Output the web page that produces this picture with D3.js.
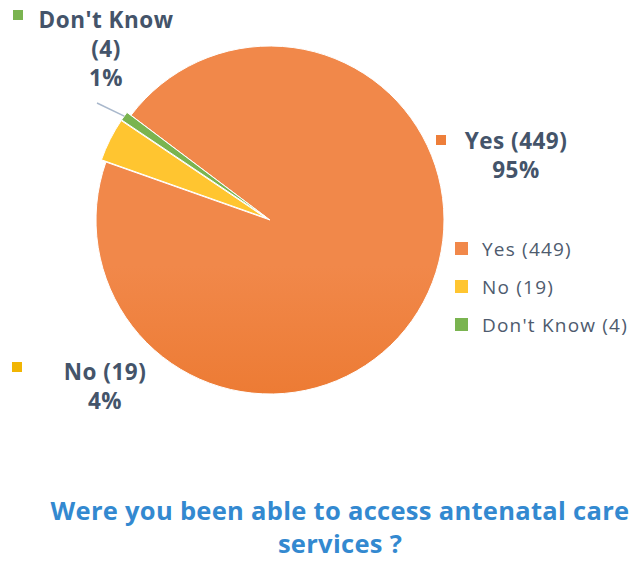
<!DOCTYPE html>
<html>
<head>
<meta charset="utf-8">
<script src="https://cdn.jsdelivr.net/npm/d3@7/dist/d3.min.js"></script>
<style>
  body { margin: 0; background: #fff; }
  svg text { font-family: "Open Sans", "Noto Sans", sans-serif; }
</style>
</head>
<body>
<div class="chart"></div>
<script>
// data
var categories = ["Yes", "No", "Don't Know"];
var counts = [449, 19, 4];
var percentLabels = ["95%", "4%", "1%"];
var titleLines = ["Were you been able to access antenatal care", "services ?"];

var width = 644, height = 561;
var cx = 270, cy = 220, radius = 174;

var colorTop = ["#F1884A", "#FFC530", "#7AB450"];
var colorBot = ["#E5650F", "#F0B400", "#62A236"];
var explode = [0, 5, 5];

var svg = d3.select(".chart").append("svg")
    .attr("width", width)
    .attr("height", height);

var defs = svg.append("defs");
categories.forEach(function(c, i) {
  var g = defs.append("linearGradient")
      .attr("id", "grad" + i)
      .attr("gradientUnits", "userSpaceOnUse")
      .attr("x1", 0).attr("y1", cy - radius)
      .attr("x2", 0).attr("y2", cy + radius);
  g.append("stop").attr("offset", "0%").attr("stop-color", colorTop[i]);
  g.append("stop").attr("offset", "100%").attr("stop-color", colorBot[i]);
});

var startA = -53 * Math.PI / 180;
var pie = d3.pie()
    .sort(null)
    .startAngle(startA)
    .endAngle(startA + 2 * Math.PI)
    .value(function(d) { return d; });

var arc = d3.arc().innerRadius(0).outerRadius(radius);
var arcs = pie(counts);

var g = svg.append("g")
    .attr("transform", "translate(" + cx + "," + cy + ")");

g.selectAll(".slice")
    .data(arcs)
  .enter().append("path")
    .attr("class", "slice")
    .attr("d", arc)
    .attr("transform", function(d, i) {
      var a = (d.startAngle + d.endAngle) / 2;
      return "translate(" + (Math.sin(a) * explode[i]) + "," + (-Math.cos(a) * explode[i]) + ")";
    })
    .attr("fill", function(d, i) { return "url(#grad" + i + ")"; })
    .attr("stroke", "#fff")
    .attr("stroke-width", 1);

// leader line for the small slice
var dk = arcs[2];
var dkA = (dk.startAngle + dk.endAngle) / 2;
svg.append("line")
    .attr("x1", cx + Math.sin(dkA) * (radius + 5))
    .attr("y1", cy - Math.cos(dkA) * (radius + 5))
    .attr("x2", 97)
    .attr("y2", 103)
    .attr("stroke", "#A9B8CC")
    .attr("stroke-width", 1.5);

// data labels
var labelColor = "#44546A";
var dataLabels = [
  { lines: ["Yes (449)", percentLabels[0]], x: 516, y: 149, mx: 441, my: 140 },
  { lines: ["No (19)", percentLabels[1]], x: 105, y: 380, mx: 17, my: 367 },
  { lines: ["Don't Know", "(" + counts[2] + ")", percentLabels[2]], x: 106, y: 28, mx: 18, my: 15 }
];

[0, 1, 2].forEach(function(i) {
  var L = dataLabels[i];
  svg.append("rect")
      .attr("x", L.mx - 5).attr("y", L.my - 5)
      .attr("width", 10).attr("height", 10)
      .attr("fill", "url(#grad" + i + ")");
  var t = svg.append("text")
      .attr("text-anchor", "middle")
      .attr("font-weight", "bold")
      .attr("font-size", 22.5)
      .attr("letter-spacing", 0.5)
      .attr("fill", labelColor);
  L.lines.forEach(function(s, k) {
    t.append("tspan")
        .attr("x", L.x)
        .attr("y", L.y + k * 29)
        .text(s);
  });
});

// legend
var legend = svg.append("g").attr("transform", "translate(461,249)");
var li = legend.selectAll(".li")
    .data(categories)
  .enter().append("g")
    .attr("class", "li")
    .attr("transform", function(d, i) { return "translate(0," + (i * 38) + ")"; });
li.append("rect")
    .attr("x", -6).attr("y", -7)
    .attr("width", 13).attr("height", 13)
    .attr("fill", function(d, i) { return "url(#grad" + i + ")"; });
li.append("text")
    .attr("x", 21)
    .attr("y", 7)
    .attr("font-size", 19)
    .attr("letter-spacing", 1.2)
    .attr("fill", "#4E5B6E")
    .text(function(d, i) { return d + " (" + counts[i] + ")"; });

// title
var title = svg.append("text")
    .attr("text-anchor", "middle")
    .attr("font-weight", "bold")
    .attr("font-size", 25.5)
    .attr("letter-spacing", 0.3)
    .attr("fill", "#3389D0");
titleLines.forEach(function(s, k) {
  title.append("tspan")
      .attr("x", 340)
      .attr("y", 520 + k * 33)
      .text(s);
});
</script>
</body>
</html>
